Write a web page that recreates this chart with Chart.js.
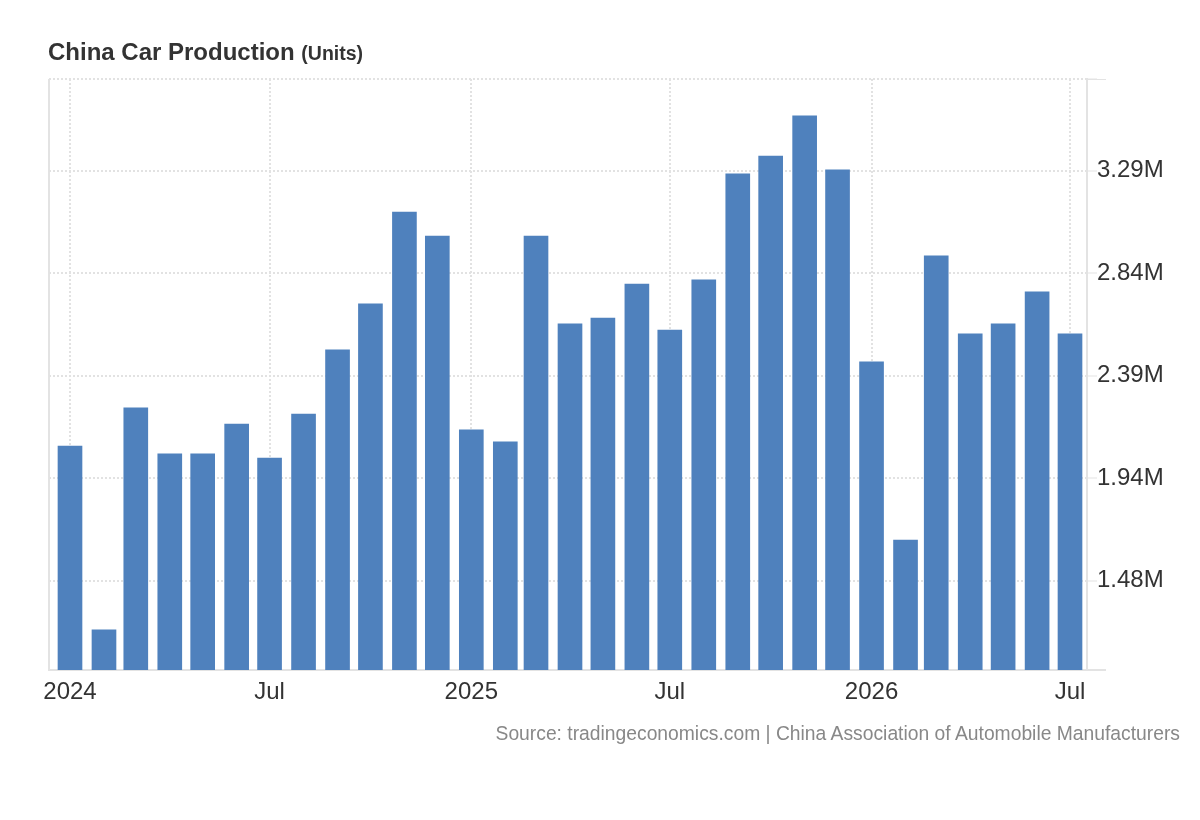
<!DOCTYPE html>
<html>
<head>
<meta charset="utf-8">
<title>China Car Production</title>
<script src="https://cdn.jsdelivr.net/npm/chart.js@4.4.1/dist/chart.umd.min.js"></script>
<style>
  html, body { margin: 0; padding: 0; background: #fff; }
  body { width: 1200px; height: 820px; position: relative; overflow: hidden; font-family: "Liberation Sans", Arial, sans-serif; }
  #chartBox { position: absolute; left: 0; top: 0; width: 1200px; height: 820px; }
  .title { position: absolute; left: 48px; top: 40px; font-size: 24px; line-height: 24px; font-weight: bold; color: #333; white-space: nowrap; }
  .title small { font-size: 19.5px; }
  .source { position: absolute; right: 20px; top: 724px; font-size: 19.3px; line-height: 19px; color: #888; white-space: nowrap; }
</style>
</head>
<body>
<div id="chartBox"><canvas id="productionChart" width="1200" height="820"></canvas></div>
<div class="title">China Car Production <small>(Units)</small></div>
<div class="source">Source: tradingeconomics.com | China Association of Automobile Manufacturers</div>
<script>
// monthly car production, Jan 2024 - Jul 2026
const months = [
    '2024-01', '2024-02', '2024-03', '2024-04', '2024-05', '2024-06',
    '2024-07', '2024-08', '2024-09', '2024-10', '2024-11', '2024-12',
    '2025-01', '2025-02', '2025-03', '2025-04', '2025-05', '2025-06',
    '2025-07', '2025-08', '2025-09', '2025-10', '2025-11', '2025-12',
    '2026-01', '2026-02', '2026-03', '2026-04', '2026-05', '2026-06',
    '2026-07'
];
const production = [
    2077000, 1265000, 2245000, 2042000, 2042000, 2174000,
    2024000, 2218000, 2501000, 2704000, 3110000, 3004000,
    2148000, 2095000, 3004000, 2616000, 2642000, 2792000,
    2589000, 2810000, 3278000, 3357000, 3534000, 3296000,
    2448000, 1662000, 2916000, 2572000, 2616000, 2757000,
    2572000
];
const xTickMonths = ['2024-01', '2024-07', '2025-01', '2025-07', '2026-01', '2026-07'];
const xTickLabels = ['2024', 'Jul', '2025', 'Jul', '2026', 'Jul'];
const yTickValues = [1482500, 1935000, 2387500, 2840000, 3292500];
const yTickLabels = ['1.48M', '1.94M', '2.39M', '2.84M', '3.29M'];

// x axis runs in days since 1 Jan 2024 so months keep their real length
const DAY = 86400000;
const origin = Date.UTC(2024, 0, 1);
function dayOf(m) {
    const [y, mo] = m.split('-').map(Number);
    return (Date.UTC(y, mo - 1, 1) - origin) / DAY;
}

const xMin = -19.15;
const xMax = 927.5;
const yMin = 1088000;
const yMax = 3697000;

const gridColor = '#e2e2e2';
const axisColor = '#e3e3e3';

Chart.defaults.font.family = '"Liberation Sans", Arial, sans-serif';
Chart.defaults.color = '#333';

// short continuation of the top and bottom lines past the right axis
const axisStubs = {
    id: 'axisStubs',
    afterDraw(chart) {
        const { ctx, chartArea: a } = chart;
        ctx.save();
        ctx.strokeStyle = axisColor;
        ctx.lineWidth = 1;
        ctx.beginPath();
        ctx.moveTo(a.right, a.top + 0.5);
        ctx.lineTo(a.right + 19, a.top + 0.5);
        ctx.stroke();
        ctx.lineWidth = 2;
        ctx.beginPath();
        ctx.moveTo(a.right, a.bottom);
        ctx.lineTo(a.right + 19, a.bottom);
        ctx.stroke();
        ctx.restore();
    }
};

const ctx = document.getElementById('productionChart').getContext('2d');
const productionChart = new Chart(ctx, {
    type: 'bar',
    data: {
        datasets: [{
            label: 'Car Production',
            data: months.map((m, i) => ({ x: dayOf(m), y: production[i] })),
            backgroundColor: '#4f81bd',
            borderWidth: 0,
            barThickness: 24
        }]
    },
    options: {
        responsive: false,
        animation: false,
        layout: { padding: { left: 49, top: 79, right: 0, bottom: 90 } },
        plugins: {
            legend: { display: false },
            tooltip: { enabled: false }
        },
        scales: {
            x: {
                type: 'linear',
                min: xMin,
                max: xMax,
                offset: false,
                grid: {
                    offset: false,
                    drawTicks: false,
                    color: c => c.index === 0 ? axisColor : gridColor,
                    lineWidth: 2
                },
                border: {
                    display: true,
                    color: axisColor,
                    width: 2,
                    dash: c => c.index === 0 ? [] : [2, 2]
                },
                ticks: {
                    autoSkip: false,
                    maxRotation: 0,
                    padding: 8,
                    color: '#333',
                    font: { size: 24 },
                    callback: function (value) {
                        const i = xTickMonths.findIndex(m => dayOf(m) === value);
                        return i < 0 ? '' : xTickLabels[i];
                    }
                },
                afterBuildTicks: s => {
                    s.ticks = [xMin].concat(xTickMonths.map(dayOf)).map(v => ({ value: v }));
                },
                afterFit: s => { s.height = 60; }
            },
            y: {
                position: 'right',
                min: yMin,
                max: yMax,
                beginAtZero: false,
                grid: {
                    color: gridColor,
                    lineWidth: 2,
                    tickLength: 10,
                    tickColor: axisColor,
                    tickWidth: 1
                },
                border: {
                    display: true,
                    color: axisColor,
                    width: 2,
                    dash: [2, 2]
                },
                ticks: {
                    autoSkip: false,
                    padding: 0,
                    color: '#333',
                    font: { size: 24 },
                    callback: function (value) {
                        const i = yTickValues.indexOf(value);
                        return i < 0 ? '' : yTickLabels[i];
                    }
                },
                afterBuildTicks: s => {
                    s.ticks = yTickValues.concat([yMax]).map(v => ({ value: v }));
                },
                afterFit: s => { s.width = 113; }
            }
        }
    },
    plugins: [axisStubs]
});
</script>
</body>
</html>
